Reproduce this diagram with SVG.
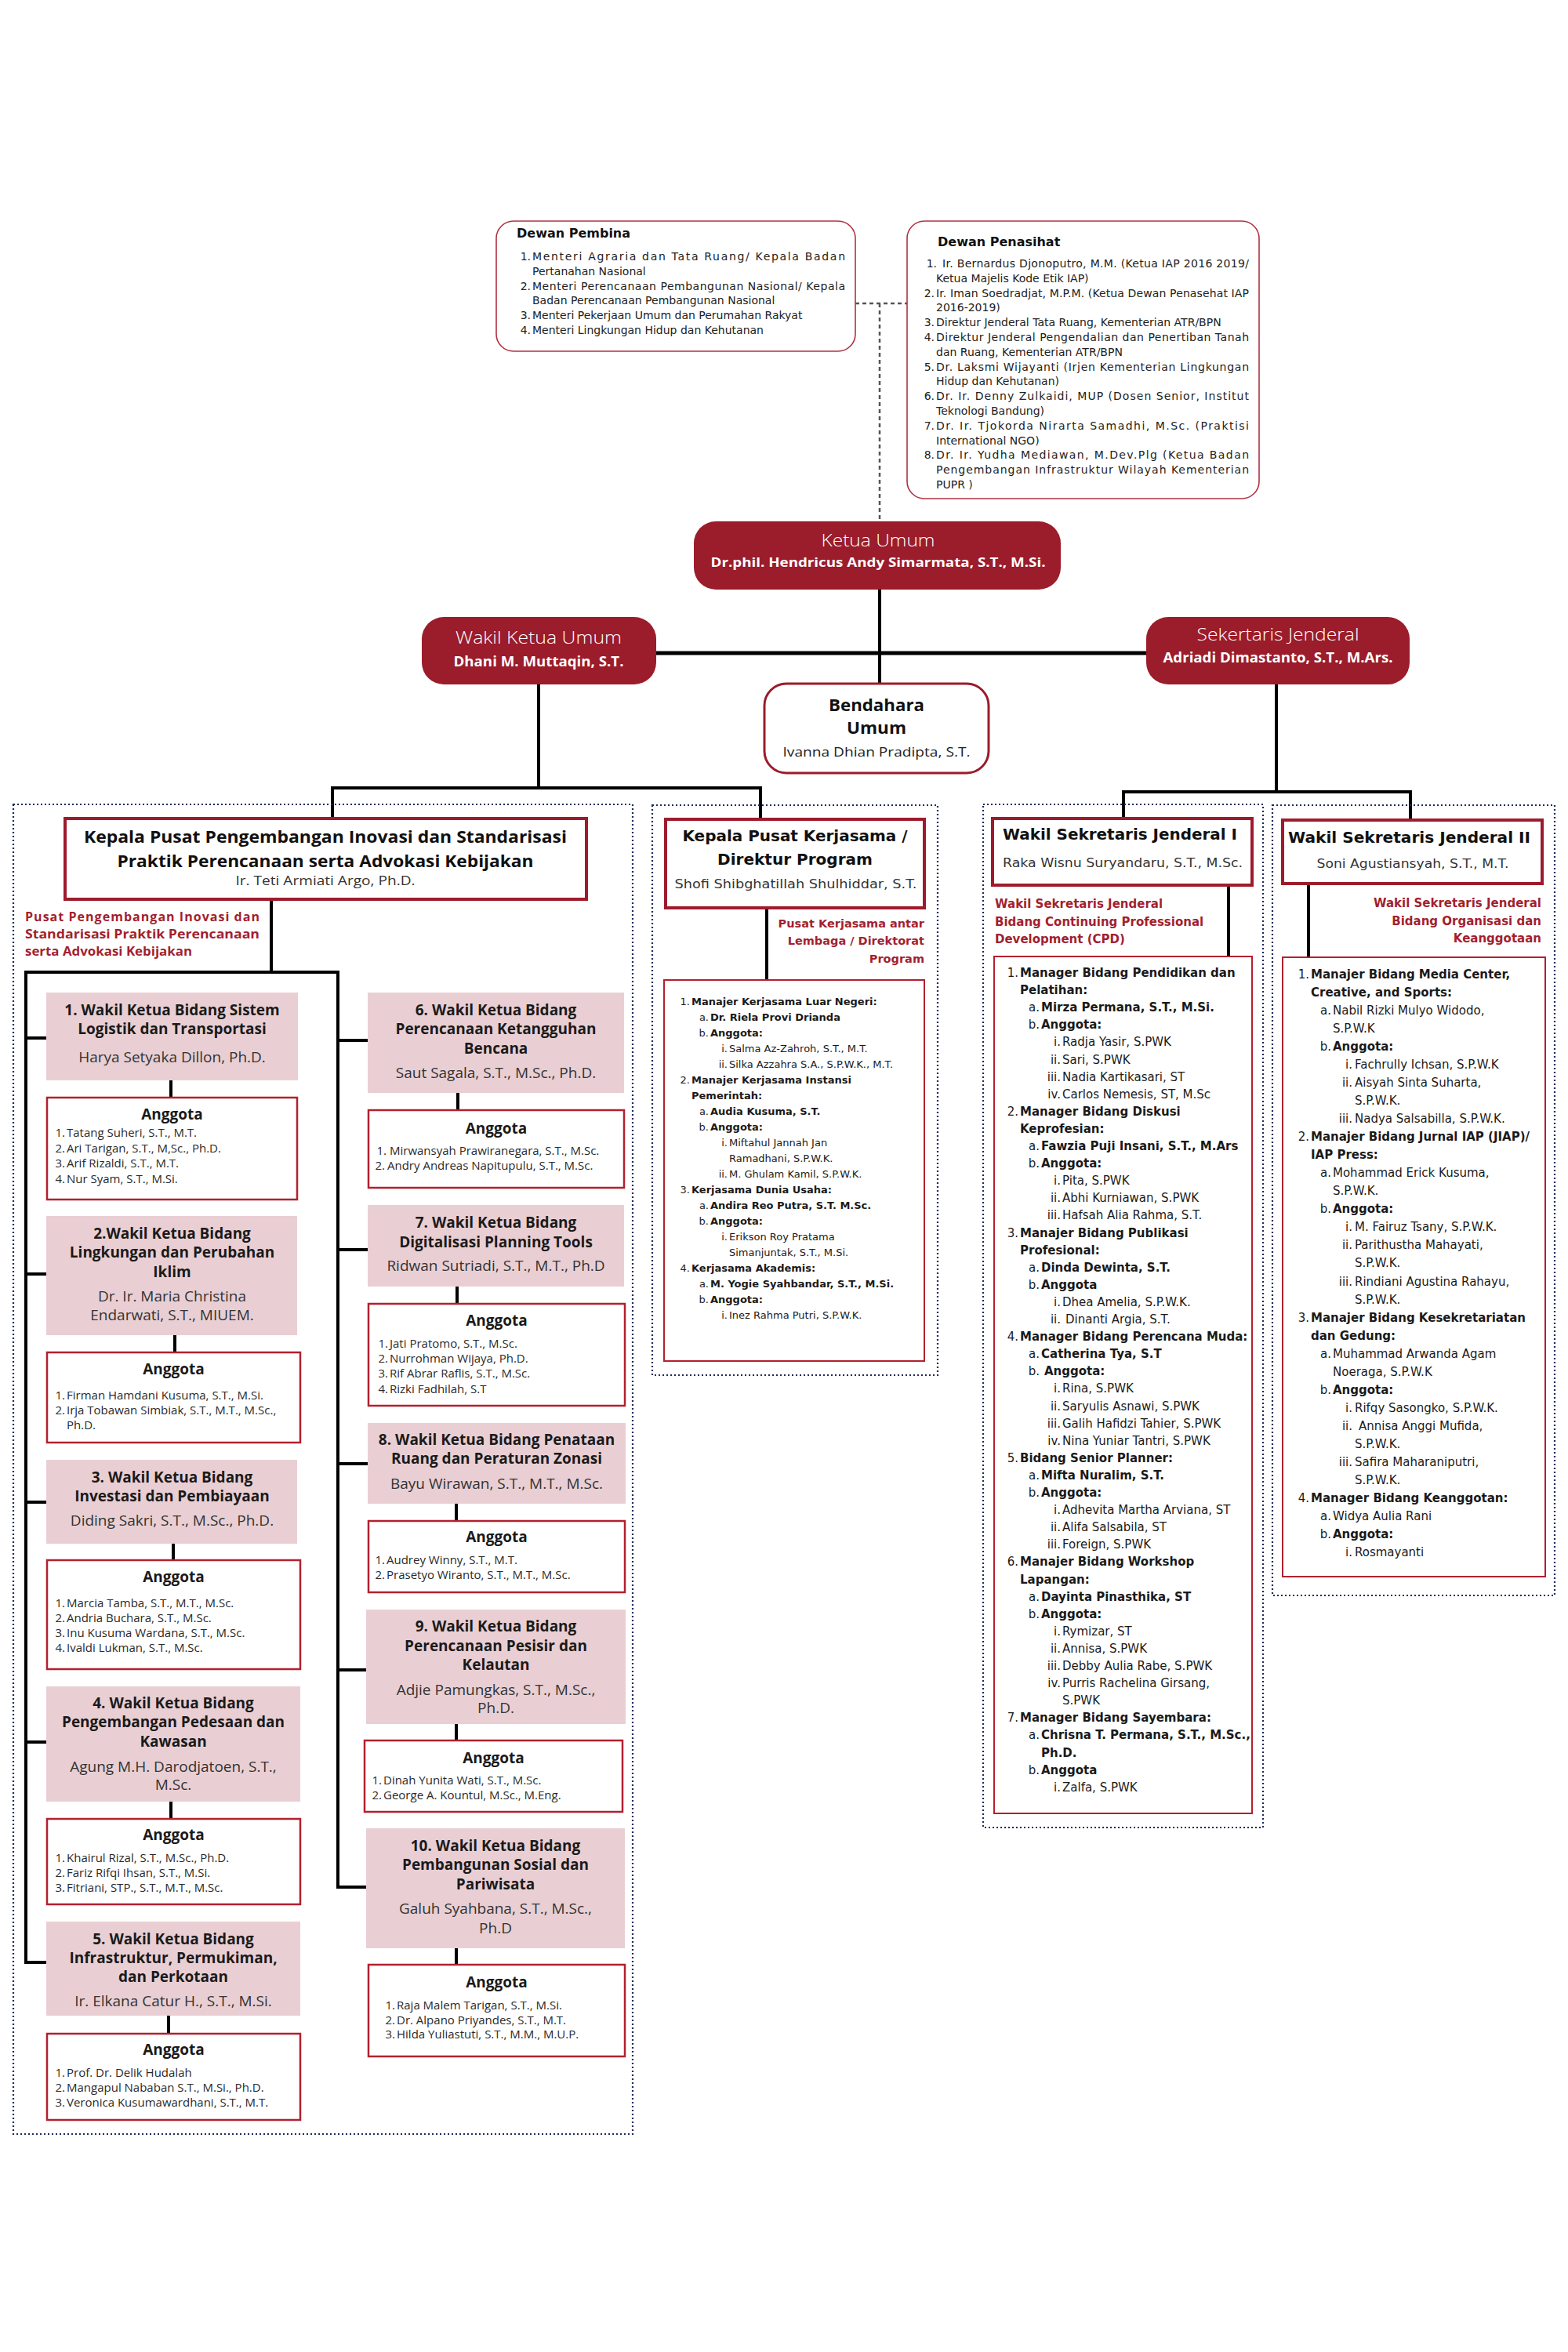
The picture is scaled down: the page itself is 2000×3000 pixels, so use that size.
<svg xmlns="http://www.w3.org/2000/svg" width="2000" height="3000" viewBox="0 0 2000 3000">
<defs>
<style>
.os{font-family:"Open Sans","Liberation Sans",sans-serif}
.dv{font-family:"DejaVu Sans","Liberation Sans",sans-serif}
.b{font-weight:700}
.e{text-anchor:end}
.c{text-anchor:middle}
.conn{stroke:#000;stroke-width:4;fill:none}
.thick{stroke:#000;stroke-width:5;fill:none}
.dash{stroke:#555;stroke-width:2.5;stroke-dasharray:5 4;fill:none}
.dot{fill:none;stroke:#1f2a5c;stroke-width:2.2;stroke-dasharray:2 3}
.dewan{fill:#fff;stroke:#b03342;stroke-width:1.6}
.lead{fill:#9b1c2a}
.hbox{fill:#fff;stroke:#9e1b2c;stroke-width:4}
.pink{fill:#e9cfd3}
.abox{fill:#fff;stroke:#b3202f;stroke-width:2.5}
.lbox{fill:#fff;stroke:#b3202f;stroke-width:2}
.t{font-family:"Open Sans","Liberation Sans",sans-serif;font-weight:700;font-size:19px;fill:#1a1a1a;text-anchor:middle}
.n{font-family:"Open Sans","Liberation Sans",sans-serif;font-weight:400;font-size:19px;fill:#333;text-anchor:middle}
.ag{font-family:"Open Sans","Liberation Sans",sans-serif;font-weight:700;font-size:19px;fill:#1a1a1a;text-anchor:middle}
.it{font-family:"Open Sans","Liberation Sans",sans-serif;font-size:15px;fill:#2a2a2a}
.red{fill:#a31f2f;font-weight:700}
</style>
</defs>
<rect width="2000" height="3000" fill="#fff"/>

<g id="connectors">
<path class="dash" d="M1091,387 H1157 M1122,387 V665"/>
<path class="conn" d="M1122,752 V872"/>
<path class="thick" d="M837,833 H1462"/>
<path class="conn" d="M687,873 V1005 M422,1005 H972 M424,1005 V1044 M970,1005 V1045"/>
<path class="conn" d="M1628,873 V1010 M1431,1010 H1801 M1433,1010 V1044 M1799,1010 V1046"/>
<path class="conn" d="M346,1147 V1240 M31,1240 H433 M33,1240 V2503 H59 M431,1240 V2407 H468"/>
<path class="conn" d="M33,1324 H59 M33,1625 H59 M33,1916 H59 M33,2222 H59"/>
<path class="conn" d="M431,1327 H469 M431,1594 H469 M431,1867 H469 M431,2130 H467"/>
<path class="conn" d="M218,1362 V1400 M223,1703 V1725 M221,1969 V1990 M218,2298 V2320 M215,2571 V2594"/>
<path class="conn" d="M584,1394 V1416 M583,1641 V1663 M582,1918 V1940 M582,2199 V2220 M582,2485 V2506"/>
<path class="conn" d="M978,1158 V1250"/>
<path class="conn" d="M1567,1129 V1220"/>
<path class="conn" d="M1669,1127 V1221"/>
</g>

<g id="frames">
<rect class="dot" x="17" y="1026" width="790" height="1696"/>
<rect class="dot" x="832" y="1027" width="364" height="727"/>
<rect class="dot" x="1254" y="1026" width="357" height="1305"/>
<rect class="dot" x="1623" y="1027" width="360" height="1008"/>
</g>

<g id="dewan-pembina" class="dv" font-size="14" fill="#222">
<rect class="dewan" x="633" y="282" width="458" height="166" rx="22"/>
<text class="b" x="659" y="303" font-size="16" fill="#111">Dewan Pembina</text>
<text class="e" x="677" y="332">1.</text><text x="679" y="332" textLength="399" lengthAdjust="spacing">Menteri Agraria dan Tata Ruang/ Kepala Badan</text>
<text x="679" y="351">Pertanahan Nasional</text>
<text class="e" x="677" y="370">2.</text><text x="679" y="370" textLength="399" lengthAdjust="spacing">Menteri Perencanaan Pembangunan Nasional/ Kepala</text>
<text x="679" y="388">Badan Perencanaan Pembangunan Nasional</text>
<text class="e" x="677" y="407">3.</text><text x="679" y="407">Menteri Pekerjaan Umum dan Perumahan Rakyat</text>
<text class="e" x="677" y="426">4.</text><text x="679" y="426">Menteri Lingkungan Hidup dan Kehutanan</text>
</g>

<g id="dewan-penasihat" class="dv" font-size="14" fill="#222">
<rect class="dewan" x="1157" y="282" width="449" height="354" rx="22"/>
<text class="b" x="1196" y="314" font-size="16" fill="#111">Dewan Penasihat</text>
<text class="e" x="1195" y="341">1.</text><text x="1202" y="341" textLength="391" lengthAdjust="spacing">Ir. Bernardus Djonoputro, M.M. (Ketua IAP 2016 2019/</text>
<text x="1194" y="359.8">Ketua Majelis Kode Etik IAP)</text>
<text class="e" x="1192" y="378.6">2.</text><text x="1194" y="378.6" textLength="399" lengthAdjust="spacing">Ir. Iman Soedradjat, M.P.M. (Ketua Dewan Penasehat IAP</text>
<text x="1194" y="397.4">2016-2019)</text>
<text class="e" x="1192" y="416.2">3.</text><text x="1194" y="416.2">Direktur Jenderal Tata Ruang, Kementerian ATR/BPN</text>
<text class="e" x="1192" y="435">4.</text><text x="1194" y="435" textLength="399" lengthAdjust="spacing">Direktur Jenderal Pengendalian dan Penertiban Tanah</text>
<text x="1194" y="453.8">dan Ruang, Kementerian ATR/BPN</text>
<text class="e" x="1192" y="472.6">5.</text><text x="1194" y="472.6" textLength="399" lengthAdjust="spacing">Dr. Laksmi Wijayanti (Irjen Kementerian Lingkungan</text>
<text x="1194" y="491.4">Hidup dan Kehutanan)</text>
<text class="e" x="1192" y="510.2">6.</text><text x="1194" y="510.2" textLength="399" lengthAdjust="spacing">Dr. Ir. Denny Zulkaidi, MUP (Dosen Senior, Institut</text>
<text x="1194" y="529">Teknologi Bandung)</text>
<text class="e" x="1192" y="547.8">7.</text><text x="1194" y="547.8" textLength="399" lengthAdjust="spacing">Dr. Ir. Tjokorda Nirarta Samadhi, M.Sc. (Praktisi</text>
<text x="1194" y="566.6">International NGO)</text>
<text class="e" x="1192" y="585.4">8.</text><text x="1194" y="585.4" textLength="399" lengthAdjust="spacing">Dr. Ir. Yudha Mediawan, M.Dev.Plg (Ketua Badan</text>
<text x="1194" y="604.2" textLength="399" lengthAdjust="spacing">Pengembangan Infrastruktur Wilayah Kementerian</text>
<text x="1194" y="623">PUPR )</text>
</g>

<g id="ketua-umum" class="os c" fill="#fff">
<rect class="lead" x="885" y="665" width="468" height="87" rx="28"/>
<text x="1120" y="697" font-size="22" font-weight="300" textLength="145" lengthAdjust="spacingAndGlyphs">Ketua Umum</text>
<text class="b" x="1120" y="723" font-size="16.5" textLength="427" lengthAdjust="spacingAndGlyphs">Dr.phil. Hendricus Andy Simarmata, S.T., M.Si.</text>
</g>

<g id="wakil-ketua-umum" class="os c" fill="#fff">
<rect class="lead" x="538" y="787" width="299" height="86" rx="28"/>
<text x="687" y="821" font-size="22" font-weight="300" textLength="212" lengthAdjust="spacingAndGlyphs">Wakil Ketua Umum</text>
<text class="b" x="687" y="850" font-size="17" textLength="217" lengthAdjust="spacingAndGlyphs">Dhani M. Muttaqin, S.T.</text>
</g>

<g id="sekretaris-jenderal" class="os c" fill="#fff">
<rect class="lead" x="1462" y="787" width="336" height="86" rx="28"/>
<text x="1630" y="817" font-size="22" font-weight="300" textLength="207" lengthAdjust="spacingAndGlyphs">Sekertaris Jenderal</text>
<text class="b" x="1630" y="845" font-size="17" textLength="293" lengthAdjust="spacingAndGlyphs">Adriadi Dimastanto, S.T., M.Ars.</text>
</g>

<g id="bendahara-umum" class="os c" fill="#111">
<rect x="975" y="872" width="286" height="114" rx="28" fill="#fff" stroke="#9b1c2a" stroke-width="3"/>
<text class="b" x="1118" y="907" font-size="21" textLength="122" lengthAdjust="spacingAndGlyphs">Bendahara</text>
<text class="b" x="1118" y="936" font-size="21" textLength="76" lengthAdjust="spacingAndGlyphs">Umum</text>
<text x="1118" y="965" font-size="16" fill="#222" textLength="239" lengthAdjust="spacingAndGlyphs">Ivanna Dhian Pradipta, S.T.</text>
</g>

<g id="kepala-pusat-inovasi" class="os">
<rect class="hbox" x="83" y="1044" width="665" height="103"/>
<text class="b c" x="415" y="1075" font-size="22" fill="#111" textLength="616" lengthAdjust="spacingAndGlyphs">Kepala Pusat Pengembangan Inovasi dan Standarisasi</text>
<text class="b c" x="415" y="1106" font-size="22" fill="#111" textLength="531" lengthAdjust="spacingAndGlyphs">Praktik Perencanaan serta Advokasi Kebijakan</text>
<text class="c" x="415" y="1129" font-size="17" fill="#333" textLength="229" lengthAdjust="spacingAndGlyphs">Ir. Teti Armiati Argo, Ph.D.</text>
<text class="red" x="32" y="1175" font-size="16" textLength="299" lengthAdjust="spacing">Pusat Pengembangan Inovasi dan</text>
<text class="red" x="32" y="1197" font-size="16" textLength="299" lengthAdjust="spacingAndGlyphs">Standarisasi Praktik Perencanaan</text>
<text class="red" x="32" y="1219" font-size="16" textLength="213" lengthAdjust="spacingAndGlyphs">serta Advokasi Kebijakan</text>
</g>

<g id="wk1">
<rect class="pink" x="59" y="1266" width="321" height="112"/>
<text class="t" x="219.5" y="1295">1. Wakil Ketua Bidang Sistem</text>
<text class="t" x="219.5" y="1319">Logistik dan Transportasi</text>
<text class="n" x="219.5" y="1355">Harya Setyaka Dillon, Ph.D.</text>
</g>
<g id="anggota1">
<rect class="abox" x="60" y="1400" width="319" height="130"/>
<text class="ag" x="219.5" y="1428">Anggota</text>
<text class="it e" x="83" y="1450">1.</text><text class="it" x="85" y="1450">Tatang Suheri, S.T., M.T.</text>
<text class="it e" x="83" y="1469.5">2.</text><text class="it" x="85" y="1469.5">Ari Tarigan, S.T., M,Sc., Ph.D.</text>
<text class="it e" x="83" y="1489">3.</text><text class="it" x="85" y="1489">Arif Rizaldi, S.T., M.T.</text>
<text class="it e" x="83" y="1508.5">4.</text><text class="it" x="85" y="1508.5">Nur Syam, S.T., M.Si.</text>
</g>

<g id="wk2">
<rect class="pink" x="59" y="1551" width="320" height="152"/>
<text class="t" x="219.5" y="1580">2.Wakil Ketua Bidang</text>
<text class="t" x="219.5" y="1604">Lingkungan dan Perubahan</text>
<text class="t" x="219.5" y="1629">Iklim</text>
<text class="n" x="219.5" y="1660">Dr. Ir. Maria Christina</text>
<text class="n" x="219.5" y="1684">Endarwati, S.T., MIUEM.</text>
</g>
<g id="anggota2">
<rect class="abox" x="60" y="1725" width="323" height="115"/>
<text class="ag" x="221.5" y="1753">Anggota</text>
<text class="it e" x="83" y="1785">1.</text><text class="it" x="85" y="1785">Firman Hamdani Kusuma, S.T., M.Si.</text>
<text class="it e" x="83" y="1804">2.</text><text class="it" x="85" y="1804">Irja Tobawan Simbiak, S.T., M.T., M.Sc.,</text>
<text class="it" x="85" y="1823">Ph.D.</text>
</g>

<g id="wk3">
<rect class="pink" x="59" y="1862" width="320" height="107"/>
<text class="t" x="219.5" y="1891">3. Wakil Ketua Bidang</text>
<text class="t" x="219.5" y="1915">Investasi dan Pembiayaan</text>
<text class="n" x="219.5" y="1946">Diding Sakri, S.T., M.Sc., Ph.D.</text>
</g>
<g id="anggota3">
<rect class="abox" x="60" y="1990" width="323" height="139"/>
<text class="ag" x="221.5" y="2018">Anggota</text>
<text class="it e" x="83" y="2050">1.</text><text class="it" x="85" y="2050">Marcia Tamba, S.T., M.T., M.Sc.</text>
<text class="it e" x="83" y="2069">2.</text><text class="it" x="85" y="2069">Andria Buchara, S.T., M.Sc.</text>
<text class="it e" x="83" y="2088">3.</text><text class="it" x="85" y="2088">Inu Kusuma Wardana, S.T., M.Sc.</text>
<text class="it e" x="83" y="2107">4.</text><text class="it" x="85" y="2107">Ivaldi Lukman, S.T., M.Sc.</text>
</g>

<g id="wk4">
<rect class="pink" x="59" y="2151" width="324" height="147"/>
<text class="t" x="221" y="2179">4. Wakil Ketua Bidang</text>
<text class="t" x="221" y="2203">Pengembangan Pedesaan dan</text>
<text class="t" x="221" y="2228">Kawasan</text>
<text class="n" x="221" y="2260">Agung M.H. Darodjatoen, S.T.,</text>
<text class="n" x="221" y="2283">M.Sc.</text>
</g>
<g id="anggota4">
<rect class="abox" x="60" y="2320" width="323" height="109"/>
<text class="ag" x="221.5" y="2347">Anggota</text>
<text class="it e" x="83" y="2375">1.</text><text class="it" x="85" y="2375">Khairul Rizal, S.T., M.Sc., Ph.D.</text>
<text class="it e" x="83" y="2394">2.</text><text class="it" x="85" y="2394">Fariz Rifqi Ihsan, S.T., M.Si.</text>
<text class="it e" x="83" y="2413">3.</text><text class="it" x="85" y="2413">Fitriani, STP., S.T., M.T., M.Sc.</text>
</g>

<g id="wk5">
<rect class="pink" x="59" y="2451" width="324" height="120"/>
<text class="t" x="221" y="2480">5. Wakil Ketua Bidang</text>
<text class="t" x="221" y="2504">Infrastruktur, Permukiman,</text>
<text class="t" x="221" y="2528">dan Perkotaan</text>
<text class="n" x="221" y="2559">Ir. Elkana Catur H., S.T., M.Si.</text>
</g>
<g id="anggota5">
<rect class="abox" x="60" y="2594" width="323" height="110"/>
<text class="ag" x="221.5" y="2621">Anggota</text>
<text class="it e" x="83" y="2649">1.</text><text class="it" x="85" y="2649">Prof. Dr. Delik Hudalah</text>
<text class="it e" x="83" y="2668">2.</text><text class="it" x="85" y="2668">Mangapul Nababan S.T., M.Si., Ph.D.</text>
<text class="it e" x="83" y="2687">3.</text><text class="it" x="85" y="2687">Veronica Kusumawardhani, S.T., M.T.</text>
</g>

<g id="wk6">
<rect class="pink" x="469" y="1266" width="327" height="128"/>
<text class="t" x="632.5" y="1295">6. Wakil Ketua Bidang</text>
<text class="t" x="632.5" y="1319">Perencanaan Ketangguhan</text>
<text class="t" x="632.5" y="1344">Bencana</text>
<text class="n" x="632.5" y="1375">Saut Sagala, S.T., M.Sc., Ph.D.</text>
</g>
<g id="anggota6">
<rect class="abox" x="470" y="1416" width="326" height="99"/>
<text class="ag" x="633" y="1446">Anggota</text>
<text class="it e" x="493" y="1473">1.</text><text class="it" x="497" y="1473">Mirwansyah Prawiranegara, S.T., M.Sc.</text>
<text class="it e" x="491" y="1492">2.</text><text class="it" x="494" y="1492">Andry Andreas Napitupulu, S.T., M.Sc.</text>
</g>

<g id="wk7">
<rect class="pink" x="469" y="1537" width="327" height="104"/>
<text class="t" x="632.5" y="1566">7. Wakil Ketua Bidang</text>
<text class="t" x="632.5" y="1591">Digitalisasi Planning Tools</text>
<text class="n" x="632.5" y="1621">Ridwan Sutriadi, S.T., M.T., Ph.D</text>
</g>
<g id="anggota7">
<rect class="abox" x="470" y="1663" width="327" height="130"/>
<text class="ag" x="633.5" y="1691">Anggota</text>
<text class="it e" x="495" y="1718.5">1.</text><text class="it" x="497" y="1718.5">Jati Pratomo, S.T., M.Sc.</text>
<text class="it e" x="495" y="1738">2.</text><text class="it" x="497" y="1738">Nurrohman Wijaya, Ph.D.</text>
<text class="it e" x="495" y="1757">3.</text><text class="it" x="497" y="1757">Rif Abrar Raflis, S.T., M.Sc.</text>
<text class="it e" x="495" y="1777">4.</text><text class="it" x="497" y="1777">Rizki Fadhilah, S.T</text>
</g>

<g id="wk8">
<rect class="pink" x="469" y="1815" width="329" height="103"/>
<text class="t" x="633.5" y="1843">8. Wakil Ketua Bidang Penataan</text>
<text class="t" x="633.5" y="1867">Ruang dan Peraturan Zonasi</text>
<text class="n" x="633.5" y="1899">Bayu Wirawan, S.T., M.T., M.Sc.</text>
</g>
<g id="anggota8">
<rect class="abox" x="470" y="1940" width="327" height="91"/>
<text class="ag" x="633.5" y="1967">Anggota</text>
<text class="it e" x="491" y="1995">1.</text><text class="it" x="493" y="1995">Audrey Winny, S.T., M.T.</text>
<text class="it e" x="491" y="2014">2.</text><text class="it" x="493" y="2014">Prasetyo Wiranto, S.T., M.T., M.Sc.</text>
</g>

<g id="wk9">
<rect class="pink" x="467" y="2053" width="331" height="146"/>
<text class="t" x="632.5" y="2081">9. Wakil Ketua Bidang</text>
<text class="t" x="632.5" y="2106">Perencanaan Pesisir dan</text>
<text class="t" x="632.5" y="2130">Kelautan</text>
<text class="n" x="632.5" y="2162">Adjie Pamungkas, S.T., M.Sc.,</text>
<text class="n" x="632.5" y="2185">Ph.D.</text>
</g>
<g id="anggota9">
<rect class="abox" x="465" y="2220" width="329" height="91"/>
<text class="ag" x="629.5" y="2249">Anggota</text>
<text class="it e" x="487" y="2276">1.</text><text class="it" x="489" y="2276">Dinah Yunita Wati, S.T., M.Sc.</text>
<text class="it e" x="487" y="2295">2.</text><text class="it" x="489" y="2295">George A. Kountul, M.Sc., M.Eng.</text>
</g>

<g id="wk10">
<rect class="pink" x="467" y="2332" width="330" height="153"/>
<text class="t" x="632" y="2361">10. Wakil Ketua Bidang</text>
<text class="t" x="632" y="2385">Pembangunan Sosial dan</text>
<text class="t" x="632" y="2410">Pariwisata</text>
<text class="n" x="632" y="2441">Galuh Syahbana, S.T., M.Sc.,</text>
<text class="n" x="632" y="2466">Ph.D</text>
</g>
<g id="anggota10">
<rect class="abox" x="470" y="2506" width="327" height="117"/>
<text class="ag" x="633.5" y="2535">Anggota</text>
<text class="it e" x="504" y="2563">1.</text><text class="it" x="506" y="2563">Raja Malem Tarigan, S.T., M.Si.</text>
<text class="it e" x="504" y="2582">2.</text><text class="it" x="506" y="2582">Dr. Alpano Priyandes, S.T., M.T.</text>
<text class="it e" x="504" y="2600">3.</text><text class="it" x="506" y="2600">Hilda Yuliastuti, S.T., M.M., M.U.P.</text>
</g>

<g id="kepala-pusat-kerjasama" class="dv">
<rect class="hbox" x="849" y="1045" width="330" height="113"/>
<text class="b c" x="1014" y="1073" font-size="19" fill="#111" textLength="287" lengthAdjust="spacingAndGlyphs">Kepala Pusat Kerjasama /</text>
<text class="b c" x="1014" y="1103" font-size="19" fill="#111" textLength="198" lengthAdjust="spacingAndGlyphs">Direktur Program</text>
<text class="c" x="1015" y="1133" font-size="15" fill="#333" textLength="309" lengthAdjust="spacingAndGlyphs">Shofi Shibghatillah Shulhiddar, S.T.</text>
<text class="red e" x="1179" y="1183" font-size="14.5">Pusat Kerjasama antar</text>
<text class="red e" x="1179" y="1205" font-size="14.5">Lembaga / Direktorat</text>
<text class="red e" x="1179" y="1228" font-size="14.5">Program</text>
</g>
<g id="kerjasama-list" class="dv" font-size="13" fill="#1a1a1a">
<rect class="lbox" x="847" y="1250" width="332" height="486"/>
<text class="e" x="880" y="1282">1.</text><text class="b" x="882" y="1282">Manajer Kerjasama Luar Negeri:</text>
<text class="e" x="904" y="1302">a.</text><text class="b" x="906" y="1302">Dr. Riela Provi Drianda</text>
<text class="e" x="904" y="1322">b.</text><text class="b" x="906" y="1322">Anggota:</text>
<text class="e" x="928" y="1342">i.</text><text x="930" y="1342">Salma Az-Zahroh, S.T., M.T.</text>
<text class="e" x="928" y="1362">ii.</text><text x="930" y="1362">Silka Azzahra S.A., S.P.W.K., M.T.</text>
<text class="e" x="880" y="1382">2.</text><text class="b" x="882" y="1382">Manajer Kerjasama Instansi</text>
<text class="b" x="882" y="1402">Pemerintah:</text>
<text class="e" x="904" y="1422">a.</text><text class="b" x="906" y="1422">Audia Kusuma, S.T.</text>
<text class="e" x="904" y="1442">b.</text><text class="b" x="906" y="1442">Anggota:</text>
<text class="e" x="928" y="1462">i.</text><text x="930" y="1462">Miftahul Jannah Jan</text>
<text x="930" y="1482">Ramadhani, S.P.W.K.</text>
<text class="e" x="928" y="1502">ii.</text><text x="930" y="1502">M. Ghulam Kamil, S.P.W.K.</text>
<text class="e" x="880" y="1522">3.</text><text class="b" x="882" y="1522">Kerjasama Dunia Usaha:</text>
<text class="e" x="904" y="1542">a.</text><text class="b" x="906" y="1542">Andira Reo Putra, S.T. M.Sc.</text>
<text class="e" x="904" y="1562">b.</text><text class="b" x="906" y="1562">Anggota:</text>
<text class="e" x="928" y="1582">i.</text><text x="930" y="1582">Erikson Roy Pratama</text>
<text x="930" y="1602">Simanjuntak, S.T., M.Si.</text>
<text class="e" x="880" y="1622">4.</text><text class="b" x="882" y="1622">Kerjasama Akademis:</text>
<text class="e" x="904" y="1642">a.</text><text class="b" x="906" y="1642">M. Yogie Syahbandar, S.T., M.Si.</text>
<text class="e" x="904" y="1662">b.</text><text class="b" x="906" y="1662">Anggota:</text>
<text class="e" x="928" y="1682">i.</text><text x="930" y="1682">Inez Rahma Putri, S.P.W.K.</text>
</g>

<g id="wasekjen-1" class="dv">
<rect class="hbox" x="1266" y="1044" width="331" height="85"/>
<text class="b" x="1279" y="1071" font-size="20" fill="#111" textLength="299" lengthAdjust="spacingAndGlyphs">Wakil Sekretaris Jenderal I</text>
<text x="1279" y="1106" font-size="16" fill="#333" textLength="306" lengthAdjust="spacingAndGlyphs">Raka Wisnu Suryandaru, S.T., M.Sc.</text>
<text class="red" x="1269" y="1158" font-size="15">Wakil Sekretaris Jenderal</text>
<text class="red" x="1269" y="1181" font-size="15">Bidang Continuing Professional</text>
<text class="red" x="1269" y="1203" font-size="15">Development (CPD)</text>
</g>
<g id="wasekjen-1-list" class="dv" font-size="15" fill="#1a1a1a">
<rect class="lbox" x="1268" y="1220" width="329" height="1093"/>
<text class="e" x="1299" y="1246">1.</text><text class="b" x="1301" y="1246">Manager Bidang Pendidikan dan</text>
<text class="b" x="1301" y="1268">Pelatihan:</text>
<text class="e" x="1326" y="1290">a.</text><text class="b" x="1328" y="1290">Mirza Permana, S.T., M.Si.</text>
<text class="e" x="1326" y="1312">b.</text><text class="b" x="1328" y="1312">Anggota:</text>
<text class="e" x="1353" y="1334">i.</text><text x="1355" y="1334">Radja Yasir, S.PWK</text>
<text class="e" x="1353" y="1357">ii.</text><text x="1355" y="1357">Sari, S.PWK</text>
<text class="e" x="1353" y="1379">iii.</text><text x="1355" y="1379">Nadia Kartikasari, ST</text>
<text class="e" x="1353" y="1401">iv.</text><text x="1355" y="1401">Carlos Nemesis, ST, M.Sc</text>
<text class="e" x="1299" y="1423">2.</text><text class="b" x="1301" y="1423">Manager Bidang Diskusi</text>
<text class="b" x="1301" y="1445">Keprofesian:</text>
<text class="e" x="1326" y="1467">a.</text><text class="b" x="1328" y="1467">Fawzia Puji Insani, S.T., M.Ars</text>
<text class="e" x="1326" y="1489">b.</text><text class="b" x="1328" y="1489">Anggota:</text>
<text class="e" x="1353" y="1511">i.</text><text x="1355" y="1511">Pita, S.PWK</text>
<text class="e" x="1353" y="1533">ii.</text><text x="1355" y="1533">Abhi Kurniawan, S.PWK</text>
<text class="e" x="1353" y="1555">iii.</text><text x="1355" y="1555">Hafsah Alia Rahma, S.T.</text>
<text class="e" x="1299" y="1578">3.</text><text class="b" x="1301" y="1578">Manajer Bidang Publikasi</text>
<text class="b" x="1301" y="1600">Profesional:</text>
<text class="e" x="1326" y="1622">a.</text><text class="b" x="1328" y="1622">Dinda Dewinta, S.T.</text>
<text class="e" x="1326" y="1644">b.</text><text class="b" x="1328" y="1644">Anggota</text>
<text class="e" x="1353" y="1666">i.</text><text x="1355" y="1666">Dhea Amelia, S.P.W.K.</text>
<text class="e" x="1353" y="1688">ii.</text><text x="1359" y="1688">Dinanti Argia, S.T.</text>
<text class="e" x="1299" y="1710">4.</text><text class="b" x="1301" y="1710">Manager Bidang Perencana Muda:</text>
<text class="e" x="1326" y="1732">a.</text><text class="b" x="1328" y="1732">Catherina Tya, S.T</text>
<text class="e" x="1326" y="1754">b.</text><text class="b" x="1332" y="1754">Anggota:</text>
<text class="e" x="1353" y="1776">i.</text><text x="1355" y="1776">Rina, S.PWK</text>
<text class="e" x="1353" y="1799">ii.</text><text x="1355" y="1799">Saryulis Asnawi, S.PWK</text>
<text class="e" x="1353" y="1821">iii.</text><text x="1355" y="1821">Galih Hafidzi Tahier, S.PWK</text>
<text class="e" x="1353" y="1843">iv.</text><text x="1355" y="1843">Nina Yuniar Tantri, S.PWK</text>
<text class="e" x="1299" y="1865">5.</text><text class="b" x="1301" y="1865">Bidang Senior Planner:</text>
<text class="e" x="1326" y="1887">a.</text><text class="b" x="1328" y="1887">Mifta Nuralim, S.T.</text>
<text class="e" x="1326" y="1909">b.</text><text class="b" x="1328" y="1909">Anggota:</text>
<text class="e" x="1353" y="1931">i.</text><text x="1355" y="1931">Adhevita Martha Arviana, ST</text>
<text class="e" x="1353" y="1953">ii.</text><text x="1355" y="1953">Alifa Salsabila, ST</text>
<text class="e" x="1353" y="1975">iii.</text><text x="1355" y="1975">Foreign, S.PWK</text>
<text class="e" x="1299" y="1997">6.</text><text class="b" x="1301" y="1997">Manajer Bidang Workshop</text>
<text class="b" x="1301" y="2020">Lapangan:</text>
<text class="e" x="1326" y="2042">a.</text><text class="b" x="1328" y="2042">Dayinta Pinasthika, ST</text>
<text class="e" x="1326" y="2064">b.</text><text class="b" x="1328" y="2064">Anggota:</text>
<text class="e" x="1353" y="2086">i.</text><text x="1355" y="2086">Rymizar, ST</text>
<text class="e" x="1353" y="2108">ii.</text><text x="1355" y="2108">Annisa, S.PWK</text>
<text class="e" x="1353" y="2130">iii.</text><text x="1355" y="2130">Debby Aulia Rabe, S.PWK</text>
<text class="e" x="1353" y="2152">iv.</text><text x="1355" y="2152">Purris Rachelina Girsang,</text>
<text x="1355" y="2174">S.PWK</text>
<text class="e" x="1299" y="2196">7.</text><text class="b" x="1301" y="2196">Manager Bidang Sayembara:</text>
<text class="e" x="1326" y="2218">a.</text><text class="b" x="1328" y="2218">Chrisna T. Permana, S.T., M.Sc.,</text>
<text class="b" x="1328" y="2241">Ph.D.</text>
<text class="e" x="1326" y="2263">b.</text><text class="b" x="1328" y="2263">Anggota</text>
<text class="e" x="1353" y="2285">i.</text><text x="1355" y="2285">Zalfa, S.PWK</text>
</g>

<g id="wasekjen-2" class="dv">
<rect class="hbox" x="1636" y="1046" width="331" height="81"/>
<text class="b" x="1643" y="1075" font-size="20" fill="#111" textLength="309" lengthAdjust="spacingAndGlyphs">Wakil Sekretaris Jenderal II</text>
<text class="c" x="1802" y="1107" font-size="16" fill="#333" textLength="245" lengthAdjust="spacingAndGlyphs">Soni Agustiansyah, S.T., M.T.</text>
<text class="red e" x="1966" y="1157" font-size="15">Wakil Sekretaris Jenderal</text>
<text class="red e" x="1966" y="1180" font-size="15">Bidang Organisasi dan</text>
<text class="red e" x="1966" y="1202" font-size="15">Keanggotaan</text>
</g>
<g id="wasekjen-2-list" class="dv" font-size="15" fill="#1a1a1a">
<rect class="lbox" x="1636" y="1221" width="335" height="790"/>
<text class="e" x="1670" y="1248">1.</text><text class="b" x="1672" y="1248">Manajer Bidang Media Center,</text>
<text class="b" x="1672" y="1271">Creative, and Sports:</text>
<text class="e" x="1698" y="1294">a.</text><text x="1700" y="1294">Nabil Rizki Mulyo Widodo,</text>
<text x="1700" y="1317">S.P.W.K</text>
<text class="e" x="1698" y="1340">b.</text><text class="b" x="1700" y="1340">Anggota:</text>
<text class="e" x="1725" y="1363">i.</text><text x="1728" y="1363">Fachrully Ichsan, S.P.W.K</text>
<text class="e" x="1725" y="1386">ii.</text><text x="1728" y="1386">Aisyah Sinta Suharta,</text>
<text x="1728" y="1409">S.P.W.K.</text>
<text class="e" x="1725" y="1432">iii.</text><text x="1728" y="1432">Nadya Salsabilla, S.P.W.K.</text>
<text class="e" x="1670" y="1455">2.</text><text class="b" x="1672" y="1455">Manajer Bidang Jurnal IAP (JIAP)/</text>
<text class="b" x="1672" y="1478">IAP Press:</text>
<text class="e" x="1698" y="1501">a.</text><text x="1700" y="1501">Mohammad Erick Kusuma,</text>
<text x="1700" y="1524">S.P.W.K.</text>
<text class="e" x="1698" y="1547">b.</text><text class="b" x="1700" y="1547">Anggota:</text>
<text class="e" x="1725" y="1570">i.</text><text x="1728" y="1570">M. Fairuz Tsany, S.P.W.K.</text>
<text class="e" x="1725" y="1593">ii.</text><text x="1728" y="1593">Parithustha Mahayati,</text>
<text x="1728" y="1616">S.P.W.K.</text>
<text class="e" x="1725" y="1640">iii.</text><text x="1728" y="1640">Rindiani Agustina Rahayu,</text>
<text x="1728" y="1663">S.P.W.K.</text>
<text class="e" x="1670" y="1686">3.</text><text class="b" x="1672" y="1686">Manajer Bidang Kesekretariatan</text>
<text class="b" x="1672" y="1709">dan Gedung:</text>
<text class="e" x="1698" y="1732">a.</text><text x="1700" y="1732">Muhammad Arwanda Agam</text>
<text x="1700" y="1755">Noeraga, S.P.W.K</text>
<text class="e" x="1698" y="1778">b.</text><text class="b" x="1700" y="1778">Anggota:</text>
<text class="e" x="1725" y="1801">i.</text><text x="1728" y="1801">Rifqy Sasongko, S.P.W.K.</text>
<text class="e" x="1725" y="1824">ii.</text><text x="1733" y="1824">Annisa Anggi Mufida,</text>
<text x="1728" y="1847">S.P.W.K.</text>
<text class="e" x="1725" y="1870">iii.</text><text x="1728" y="1870">Safira Maharaniputri,</text>
<text x="1728" y="1893">S.P.W.K.</text>
<text class="e" x="1670" y="1916">4.</text><text class="b" x="1672" y="1916">Manager Bidang Keanggotan:</text>
<text class="e" x="1698" y="1939">a.</text><text x="1700" y="1939">Widya Aulia Rani</text>
<text class="e" x="1698" y="1962">b.</text><text class="b" x="1700" y="1962">Anggota:</text>
<text class="e" x="1725" y="1985">i.</text><text x="1728" y="1985">Rosmayanti</text>
</g>
</svg>
